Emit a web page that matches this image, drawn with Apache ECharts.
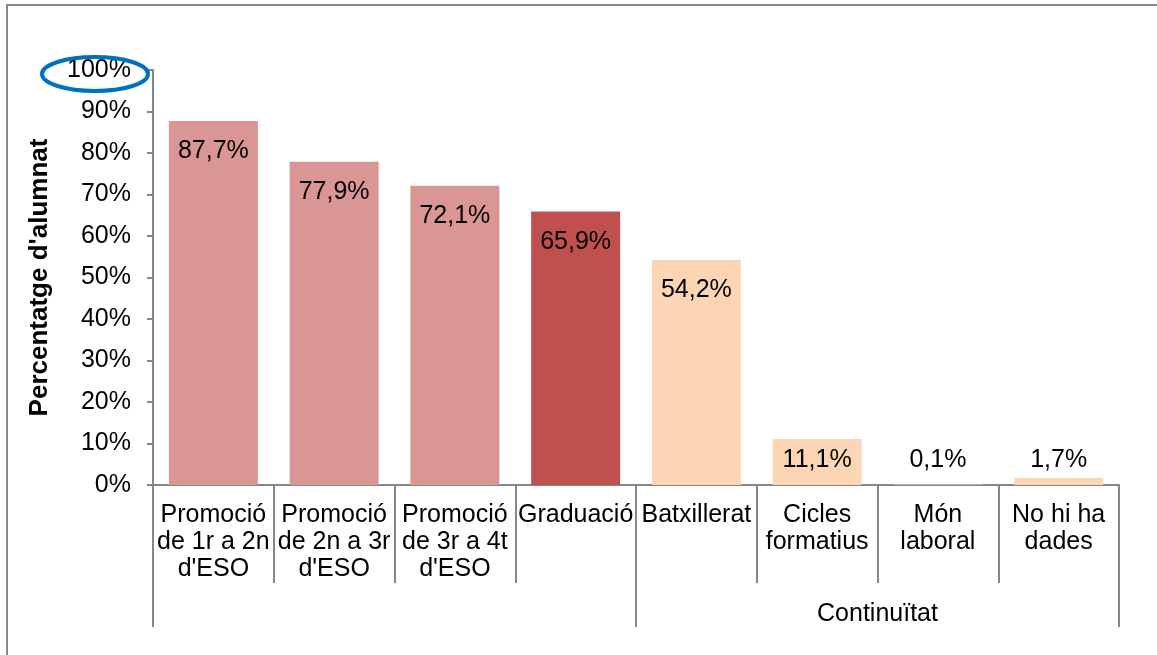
<!DOCTYPE html>
<html>
<head>
<meta charset="utf-8">
<script src="https://cdn.jsdelivr.net/npm/echarts@6/dist/echarts.min.js"></script>
<style>
  html, body { margin: 0; padding: 0; background: #fff; }
  #chart { width: 1157px; height: 655px; }
</style>
</head>
<body>
<div id="chart"></div>
<script>
const categories = [
    'Promoció\nde 1r a 2n\nd\'ESO',
    'Promoció\nde 2n a 3r\nd\'ESO',
    'Promoció\nde 3r a 4t\nd\'ESO',
    'Graduació',
    'Batxillerat',
    'Cicles\nformatius',
    'Món\nlaboral',
    'No hi ha\ndades'
];
const groups = ['', 'Continuïtat'];
const values = [87.7, 77.9, 72.1, 65.9, 54.2, 11.1, 0.1, 1.7];
const barColors = ['#D99694', '#D99694', '#D99694', '#C0504D', '#FCD5B5', '#FCD5B5', '#FCD5B5', '#FCD5B5'];
const yTicks = [0, 10, 20, 30, 40, 50, 60, 70, 80, 90, 100];

const font = 'Liberation Sans, Arial, sans-serif';
const axisGray = '#868686';
const fs = 25;

let myChart = echarts.init(document.getElementById('chart'));

// short bars get their label just above the axis, like Excel does
let barData = values.map(function (v, i) {
    let small = v < 15;
    return {
        value: v,
        itemStyle: { color: barColors[i] },
        label: {
            position: small ? 'insideBottom' : 'insideTop',
            distance: small ? 12 : 18
        }
    };
});

let option = {
    animation: false,
    textStyle: { fontFamily: font },
    grid: { left: 153, right: 38, top: 70, bottom: 170 },
    graphic: [
        {
            type: 'rect',
            shape: { x: 7, y: 5, width: 1200, height: 700 },
            style: { fill: 'none', stroke: '#888888', lineWidth: 2 },
            z: 100
        },
        {
            type: 'ellipse',
            shape: { cx: 95, cy: 74, rx: 53, ry: 17 },
            style: { fill: 'none', stroke: '#0070C0', lineWidth: 4 },
            z: 100
        }
    ],
    xAxis: [
        {
            type: 'category',
            data: categories,
            position: 'bottom',
            axisLine: { show: true, lineStyle: { color: axisGray, width: 2 } },
            axisTick: { show: true, length: 98, lineStyle: { color: axisGray, width: 2 } },
            axisLabel: {
                interval: 0,
                color: '#000',
                fontSize: fs,
                lineHeight: 27,
                margin: 17,
                fontFamily: font
            }
        },
        {
            type: 'category',
            data: groups,
            position: 'bottom',
            axisLine: { show: false },
            axisTick: { show: true, length: 142, lineStyle: { color: axisGray, width: 2 } },
            axisLabel: {
                interval: 0,
                color: '#000',
                fontSize: fs,
                margin: 117,
                fontFamily: font
            }
        }
    ],
    yAxis: {
        type: 'value',
        min: 0,
        max: 100,
        interval: 10,
        name: 'Percentatge d\'alumnat',
        nameLocation: 'middle',
        nameRotate: 90,
        nameGap: 100,
        nameTextStyle: { color: '#000', fontSize: 26, fontWeight: 'bold', fontFamily: font },
        axisLine: { show: true, lineStyle: { color: axisGray, width: 2 } },
        axisTick: { show: true, inside: false, length: 6, lineStyle: { color: axisGray, width: 2 } },
        splitLine: { show: false },
        axisLabel: {
            color: '#000',
            fontSize: fs,
            margin: 22,
            fontFamily: font,
            formatter: function (v) {
                return yTicks.indexOf(v) >= 0 ? v + '%' : '';
            }
        }
    },
    series: [
        {
            type: 'bar',
            xAxisIndex: 0,
            barWidth: 89,
            data: barData,
            label: {
                show: true,
                color: '#000',
                fontSize: fs,
                fontFamily: font,
                formatter: function (p) {
                    return p.value.toFixed(1).replace('.', ',') + '%';
                }
            }
        }
    ]
};
myChart.setOption(option);
</script>
</body>
</html>
